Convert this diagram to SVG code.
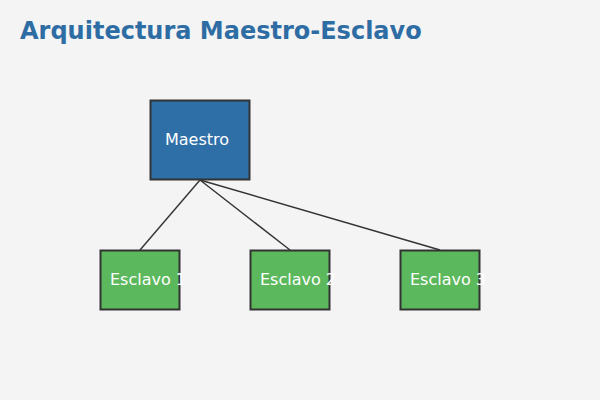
<svg xmlns="http://www.w3.org/2000/svg" width="600" height="400" viewBox="0 0 600 400">
<style>
.node rect{stroke:#333;stroke-width:2}
.master rect{fill:#2f6fa8}
.slave rect{fill:#5cb85c}
.node text{font-family:"DejaVu Sans",sans-serif;font-size:16px;fill:#fff}
.conn line{stroke:#333;stroke-width:1.4}
</style>
<rect width="600" height="400" fill="#f4f4f4"/>
<text x="20" y="38.5" font-family="DejaVu Sans, sans-serif" font-size="24" font-weight="bold" fill="#2e6da4">Arquitectura Maestro-Esclavo</text>
<g id="connectors" class="conn">
<line x1="200" y1="180" x2="140" y2="250"/>
<line x1="200" y1="180" x2="290" y2="250"/>
<line x1="200" y1="180" x2="440" y2="250"/>
</g>
<g id="maestro" class="node master"><rect x="150.5" y="100.5" width="99" height="79"/><text x="165" y="145">Maestro</text></g>
<g id="esclavo1" class="node slave"><rect x="100.5" y="250.5" width="79" height="59"/><text x="110" y="285">Esclavo 1</text></g>
<g id="esclavo2" class="node slave"><rect x="250.5" y="250.5" width="79" height="59"/><text x="260" y="285">Esclavo 2</text></g>
<g id="esclavo3" class="node slave"><rect x="400.5" y="250.5" width="79" height="59"/><text x="410" y="285">Esclavo 3</text></g>
</svg>
